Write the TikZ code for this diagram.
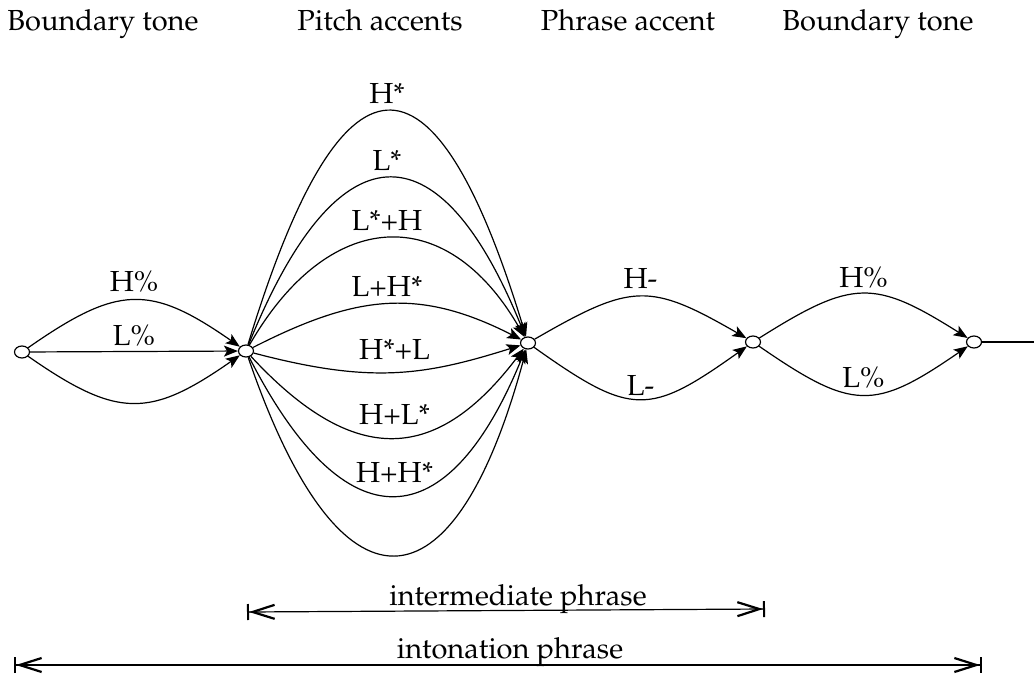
\documentclass[tikz,border=0pt]{standalone}
\usepackage[T1]{fontenc}
\usepackage{mathpazo}
\usetikzlibrary{shapes.geometric,arrows.meta}

\begin{document}
\begin{tikzpicture}[x=5pt,y=5pt,font=\fontsize{14.5}{17}\selectfont]
\tikzstyle{every node}+=[inner sep=0pt]
\tikzstyle{state}=[draw,ellipse,line width=0.6pt,minimum width=7.5pt,minimum height=6pt]
\tikzstyle{trans}=[line width=0.6pt,-{Stealth[length=7pt,width=5.5pt,inset=1.6pt]}]
\tikzstyle{tone}=[midway,above=3.5pt]
\tikzstyle{lowtone}=[midway,above=6pt]
\tikzstyle{span}=[line width=0.6pt,{Bar[width=8pt,line width=1pt]Straight Barb[length=11pt,width=7pt,line width=1.1pt]}-{Straight Barb[length=11pt,width=7pt,line width=1.1pt]Bar[width=8pt,line width=1pt]}]
\useasboundingbox (0,0) rectangle (103.4,-67.5);
% tier headings
\node [anchor=base] (tb1) at (10.3,-3.0) {Boundary tone};
\node [anchor=base] (tpa) at (38.0,-3.0) {Pitch accents};
\node [anchor=base] (tph) at (62.8,-3.0) {Phrase accent};
\node [anchor=base] (tb2) at (87.8,-3.0) {Boundary tone};
% states
\node [state] (s0) at (2.2,-35.2) {};
\node [state] (s1) at (24.6,-35.1) {};
\node [state] (s2) at (52.8,-34.3) {};
\node [state] (s3) at (75.3,-34.2) {};
\node [state] (s4) at (97.4,-34.2) {};
\coordinate (sx) at (104.0,-34.2);
% initial boundary tone
\draw [trans] (s0) .. controls +(9.6,6.7) and +(-9.6,6.7) .. (s1) node [tone] {H\%};
\draw [trans] (s0) -- (s1) node [midway,above=2.5pt] {L\%};
\draw [trans] (s0) .. controls +(9.6,-6.7) and +(-9.6,-6.7) .. (s1);
% pitch accents
\draw [trans] (s1) .. controls +(9.5,31.2) and +(-9.5,31.2) .. (s2) node [tone] {H*};
\draw [trans] (s1) .. controls +(9,22.3) and +(-9,22.3) .. (s2) node [tone] {L*};
\draw [trans] (s1) .. controls +(8.2,14.3) and +(-8.2,14.3) .. (s2) node [tone] {L*+H};
\draw [trans] (s1) .. controls +(11,5.6) and +(-11,5.6) .. (s2) node [tone] {L+H*};
\draw [trans] (s1) .. controls +(12.5,-3.3) and +(-10.5,-3.3) .. (s2) node [lowtone] {H*+L};
\draw [trans] (s1) .. controls +(11,-11.9) and +(-9,-11.9) .. (s2) node [lowtone] {H+L*};
\draw [trans] (s1) .. controls +(10,-19.6) and +(-8,-19.6) .. (s2) node [lowtone] {H+H*};
\draw [trans] (s1) .. controls +(9.4,-27.5) and +(-7.4,-27.5) .. (s2);
% phrase accent
\draw [trans] (s2) .. controls +(10.4,6) and +(-10.4,6) .. (s3) node [tone] {H-};
\draw [trans] (s2) .. controls +(10.4,-7.4) and +(-10.4,-7.4) .. (s3) node [midway,above=1.5pt] {L-};
% final boundary tone
\draw [trans] (s3) .. controls +(10,6.3) and +(-10,6.3) .. (s4) node [midway,above=2.5pt] {H\%};
\draw [trans] (s3) .. controls +(10,-6.9) and +(-10,-6.9) .. (s4) node [midway,above=3pt] {L\%};
\draw [line width=0.6pt,-{To[length=3pt,width=6pt]}] (s4) -- (sx);
% phrase spans
\coordinate (ip1) at (24.7,-61.2);
\coordinate (ip2) at (76.5,-60.9);
\coordinate (io1) at (1.4,-66.5);
\coordinate (io2) at (98.2,-66.5);
\draw [span] (ip1) -- (ip2);
\draw [span] (io1) -- (io2);
\node [anchor=base] (ipl) at (51.8,-60.5) {intermediate phrase};
\node [anchor=base] (iol) at (51.0,-65.8) {intonation phrase};
\end{tikzpicture}
\end{document}
